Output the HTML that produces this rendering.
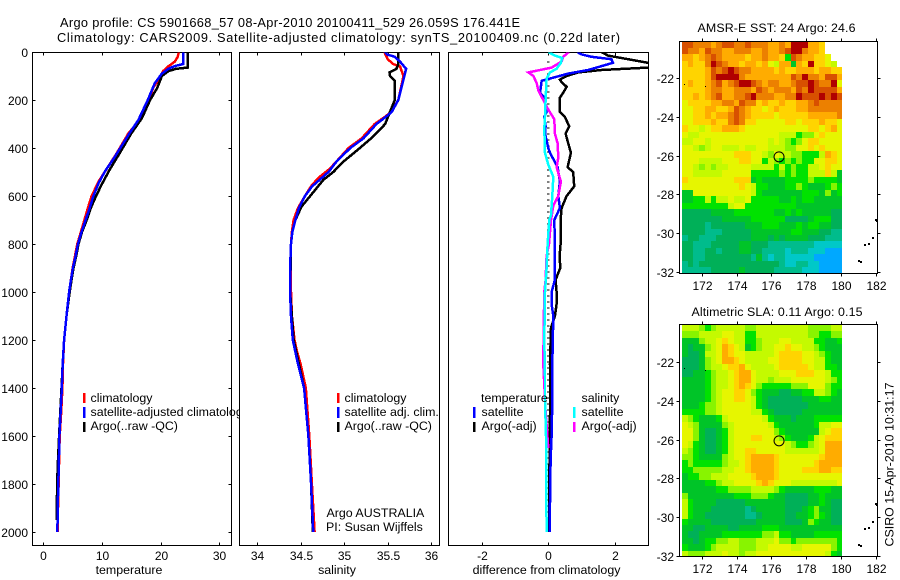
<!DOCTYPE html>
<html lang="en">
<head>
<meta charset="utf-8">
<title>Argo profile</title>
<style>
html,body{margin:0;padding:0;background:#fff;}
svg{display:block;font-family:"Liberation Sans",sans-serif;font-size:12.4px;fill:#000;}
text{fill:#000;stroke:none;}
.frame{fill:none;stroke:#000;stroke-width:1;shape-rendering:crispEdges;}
.tick{stroke:#000;stroke-width:1;shape-rendering:crispEdges;}
.prof{fill:none;stroke-width:2.5;stroke-linejoin:miter;shape-rendering:crispEdges;}
</style>
</head>
<body>
<svg id="chart" xmlns="http://www.w3.org/2000/svg" width="900" height="580" viewBox="0 0 900 580">
<defs>
<clipPath id="clip-temp"><rect x="32.5" y="52.5" width="199" height="493"/></clipPath>
<clipPath id="clip-sal"><rect x="239.5" y="52.5" width="200" height="493"/></clipPath>
<clipPath id="clip-diff"><rect x="448.5" y="52.5" width="200" height="493"/></clipPath>
</defs>
<rect x="0" y="0" width="900" height="580" fill="#fff"/>
<text x="60" y="27" textLength="460" lengthAdjust="spacing" font-size="12.8">Argo profile: CS 5901668_57 08-Apr-2010 20100411_529 26.059S 176.441E</text>
<text x="57" y="42" textLength="563" lengthAdjust="spacing" font-size="12.8">Climatology: CARS2009. Satellite-adjusted climatology: synTS_20100409.nc (0.22d later)</text>

<g id="panel-temp"></g>
<g>
<rect x="83" y="393" width="2.5" height="10" fill="#f00"/>
<rect x="83" y="407" width="2.5" height="11" fill="#00f"/>
<rect x="83" y="422" width="2.5" height="10" fill="#000"/>
<text x="90.5" y="402">climatology</text>
<text x="90.5" y="416">satellite-adjusted climatology</text>
<text x="90.5" y="430">Argo(..raw -QC)</text>
</g>

<g id="panel-sal"></g>
<g>
<rect x="337" y="393" width="2.5" height="10" fill="#f00"/>
<rect x="337" y="407" width="2.5" height="11" fill="#00f"/>
<rect x="337" y="422" width="2.5" height="10" fill="#000"/>
<text x="344.5" y="402">climatology</text>
<text x="344.5" y="416">satellite adj. clim.</text>
<text x="344.5" y="430">Argo(..raw -QC)</text>
<text x="326.5" y="517">Argo AUSTRALIA</text>
<text x="326" y="531">PI: Susan Wijffels</text>
</g>

<g id="panel-diff"></g>
<g>
<text x="481" y="402">temperature</text>
<rect x="473" y="407" width="2.5" height="11" fill="#00f"/>
<rect x="473" y="422" width="2.5" height="10" fill="#000"/>
<text x="481.5" y="416">satellite</text>
<text x="481.5" y="430">Argo(-adj)</text>
<text x="581.5" y="402">salinity</text>
<rect x="573" y="407" width="2.5" height="11" fill="#0ff"/>
<rect x="573" y="422" width="2.5" height="10" fill="#f0f"/>
<text x="581.5" y="416">satellite</text>
<text x="581.5" y="430">Argo(-adj)</text>
</g>

<text x="129" y="574" text-anchor="middle">temperature</text>
<text x="337" y="574" text-anchor="middle">salinity</text>
<text x="546.5" y="574" text-anchor="middle">difference from climatology</text>

<text x="697.5" y="32" textLength="158" lengthAdjust="spacing">AMSR-E SST: 24 Argo: 24.6</text>
<text x="691.5" y="316" textLength="171" lengthAdjust="spacing">Altimetric SLA: 0.11 Argo: 0.15</text>
<g id="map-sst"></g>
<g id="map-sla"></g>
<text transform="translate(893.5,546.5) rotate(-90)" textLength="164" lengthAdjust="spacing">CSIRO 15-Apr-2010 10:31:17</text>
</svg>

<script>
// ---- axis tick labels
const depthTicks = [0,200,400,600,800,1000,1200,1400,1600,1800,2000];
const tempTicks = [0,10,20,30];
const salTicks = [34,34.5,35,35.5,36];
const diffTicks = [-2,0,2];
const lonTicks = [172,174,176,178,180,182];
const latTicks = [-22,-24,-26,-28,-30,-32];

// ---- temperature panel
const tempClimDepth = [0,20,40,60,80,100,150,200,283,339,422,491,540,603,650,700,750,800,850,900,950,1000,1100,1200,1300,1400,1500,1600,1700,1800,1900,2000];
const tempClimValue = [23.1,22.9,22.4,21.3,20.4,20,18.7,18,16.4,14.5,12.5,10.7,9.4,8.2,7.6,7.0,6.4,5.8,5.4,5.0,4.7,4.4,3.95,3.55,3.35,3.25,3.05,2.8,2.7,2.6,2.5,2.45];
const tempSatDepth = [0,50,58,70,90,130,200,283,346,436,498,547,603,650,700,750,800,850,900,950,1000,1100,1200,1300,1400,1500,1600,1700,1800,1900,2000];
const tempSatValue = [23.85,23.85,22.5,21.3,20.2,19,17.8,16.2,14.5,12.2,10.5,9.4,8.5,7.9,7.2,6.5,5.9,5.5,5.05,4.7,4.4,3.95,3.55,3.3,3.15,2.95,2.75,2.65,2.55,2.45,2.4];
const tempArgoDepth = [0,65,70,80,100,150,200,276,339,422,491,554,610,650,700,750,800,850,900,950,1000,1100,1200,1300,1400,1500,1600,1700,1800,1950];
const tempArgoValue = [24.6,24.6,22.6,21.3,20.2,19.4,18.2,16.8,15,13,11.3,9.9,8.8,8.1,7.4,6.6,6.0,5.6,5.15,4.8,4.5,3.95,3.55,3.3,3.1,2.9,2.7,2.5,2.35,2.3];

// ---- salinity panel
const salClimDepth = [0,30,50,60,100,200,250,272,300,360,400,485,520,554,600,650,700,750,800,900,1000,1100,1200,1250,1300,1350,1400,1600,1800,2000];
const salClimValue = [35.46,35.5,35.56,35.64,35.68,35.62,35.54,35.46,35.35,35.2,35.05,34.84,34.72,34.63,34.55,34.47,34.42,34.4,34.39,34.385,34.39,34.4,34.43,34.46,34.5,34.53,34.56,34.6,34.63,34.66];
const salSatDepth = [0,10,20,40,70,100,200,250,272,300,360,400,457,500,561,600,650,700,750,800,900,1000,1100,1200,1250,1300,1350,1400,1600,1800,2000];
const salSatValue = [35.47,35.49,35.58,35.64,35.71,35.69,35.62,35.545,35.47,35.37,35.22,35.07,34.91,34.82,34.63,34.55,34.48,34.44,34.405,34.39,34.38,34.38,34.39,34.41,34.44,34.47,34.505,34.54,34.59,34.62,34.645];
const salArgoDepth = [0,50,70,85,100,120,200,300,353,400,457,500,533,600,644,700,750,800,1000,1200,1300,1400,1600,1800,2000];
const salArgoValue = [35.62,35.62,35.6,35.52,35.525,35.58,35.58,35.47,35.33,35.18,34.99,34.875,34.76,34.61,34.51,34.44,34.405,34.39,34.38,34.42,34.48,34.54,34.59,34.62,34.64];

// ---- difference panel
const diffTArgoDepth = [0,15,45,55,65,75,85,100,115,125,145,170,190,250,270,310,340,380,420,480,500,560,600,650,700,800,850,900,920,950,1000,1050,1100,1150,1300,1450,1600,2000];
const diffTArgoValue = [1.6,1.8,3,3.5,3,1.6,0.9,0.55,0.35,0.4,0.55,0.45,0.35,0.35,0.5,0.63,0.52,0.6,0.68,0.58,0.75,0.78,0.55,0.4,0.37,0.37,0.34,0.36,0.3,0.22,0.25,0.25,0.2,0.08,0.05,0.06,0.04,0.03];
const diffTSatDepth = [0,10,20,30,45,75,90,120,170,190,250,270,310,340,400,420,480,540,600,650,700,800,900,950,1000,1050,1100,1300,1450,1600,1700,2000];
const diffTSatValue = [0.87,1,1.3,1.9,1.95,1.2,0.6,-0.2,-0.25,-0.12,-0.05,-0.12,-0.08,-0.1,0,0.05,0.28,0.35,0.3,0.35,0.18,0.2,0.2,0.2,0.1,0.1,0.15,0.12,0.12,0.1,0.07,0.04];
const diffSArgoDepth = [0,20,40,65,85,100,130,160,200,240,280,340,380,440,480,540,600,640,700,800,850,950,1000,1150,1300,1500,1650];
const diffSArgoValue = [0.62,0.45,0.4,0.1,-0.6,-0.45,-0.35,-0.3,-0.15,0,0.18,0.2,0.28,0.3,0.25,0.38,0.3,0.15,0.08,0.02,-0.05,-0.08,-0.12,-0.14,-0.15,-0.08,0];
const diffSSatDepth = [0,15,25,45,70,85,110,200,270,320,420,470,520,600,680,700,800,900,1000,1200,1350,1450,1600,2000];
const diffSSatValue = [0,0.2,0.42,0.38,0.25,0.05,-0.05,-0.08,-0.1,-0.12,-0.1,0,0.15,0.12,0.08,0.03,-0.02,-0.05,-0.1,-0.12,-0.1,-0.1,-0.07,-0.05];
const zeroLine = [0,0];
const zeroLineDepth = [40,2010];

// ---- map data: each character is one colour level, "." is no data
const sstRows = [
"ccbbbabccbbcbbbaabadddaa9...",
"cbbacbbaabbbaabaabcddbaa9...",
"aa9abcbaaaa9aabaa95cbaa998..",
"9a99bdcbaa9aa9a87aa4a9d9987.",
"9999acbcdcbbaaaa9a99aaa9aa99",
"9999acddddbaaaaaaaacbdbbacca",
"9a99abcabcddcbabbaabccdcbbd8",
"9999abbaabbbacbabbbacbdcccca",
"99a9abcaabbcdbbbaabbdcccdcdc",
"89999aabbacbb9a99a99aabcbbbb",
"8899aa99acba9989a999aabbbbbb",
"8899a9aabcba9999899999aaaaab",
"88999a99bcb9988888998999a998",
"9887899aaa9888888888889989a8",
"8778888888888888877756689888",
"7788788888888887876568998888",
"8876788777877887776688989888",
"8888888889998876877665557a98",
"8887777888998857656565588998",
"8876767788887777575655778988",
"8877777888885555565655777974",
"9888888889994544445555655554",
"8888888888987554445565444565",
"4488888888887544444445554645",
"4455757787785555544545544444",
"5555555578855555555544444444",
"3333344445555555445454444433",
"3333333444445555553333455533",
"3333233333344455544454554433",
"3333222333334444444554443322",
"2332223333334443434444333222",
"3322233333443332222222211111",
"3322332333443322221222111000",
"3322333333332421221111100000",
"2323333333333333321122110000",
"2222233333433333222221110000"
];
const slaRows = [
"7776567777766777777777666677",
"6667777887755777777777665566",
"4446778987755677788777755445",
"4344678a98745677889887765444",
"4334778a98877777899998876544",
"3334678aa9877778899998877544",
"3334677899a87777899999877554",
"3344567789aa8777788899988755",
"4444567789aa8776777888888765",
"4444567789a98655555666888655",
"4444567889986544433445577654",
"4444567889987543333334445544",
"4445667888887543333333444444",
"5555667888887754333334444444",
"7654445788888875444344455555",
"8764444678888887544444457788",
"8864334578888888654444447899",
"8864334578889988765444578999",
"8754334578888888887655678aaa",
"7654334578899888887777778aaa",
"665444467889aaaa988888889aaa",
"565555567789aaaa98888889aaaa",
"556666677889aaaa98888999aa99",
"4556677788889aaa988888888888",
"44445567788889a9888777777778",
"4444445566667777654444455544",
"6444444445556665443333445444",
"7544443333344444443333445433",
"7544433333323444443334564433",
"7544333333322344443344565433",
"5444433333333444443334654433",
"4433444433444455544444444444",
"4334444555555566755444455555",
"4434556677666777866566666665",
"5444567777666778888778888865",
"7666777877677888888888888754"
];
const levelValues = "0123456789abcd";
const levelColors = ["#00a8ff","#00c8c8","#00bc8c","#00b058","#00c428","#00e200","#88f400","#c4fa00","#e6f600","#ffd400","#ffac00","#ec8000","#d85000","#b00000"];

// ---- map marks
const profileLon = 176.44;
const profileLat = -26.06;
const islandLon = [181.0,181.1,181.3,181.55,181.75,181.95,182.0];
const islandLat = [-31.4,-31.45,-30.55,-30.5,-30.2,-29.27,-29.32];
const speckLon = [170.85,172.05];
const speckLat = [-22.3,-22.42];

const NS = 'http://www.w3.org/2000/svg';
function el(tag, parent){ const e = document.createElementNS(NS, tag); parent.appendChild(e); return e; }

// Axis functions
const yDepth = d => 52 + 0.24 * d;
const xTemp = v => 43.3 + 5.87 * v;
const xSal = v => 257 + 87.2 * (v - 34);
const xDiff = v => 548.3 + 33.2 * v;
const xLon = v => 701.7 + 17.42 * (v - 172);

function drawFrame(g, x0, y0, w, h){
  const r = el('rect', g);
  
  
  r.setAttribute('class', 'frame');
  r.setAttribute('x', x0); r.setAttribute('y', y0);
  r.setAttribute('width', w); r.setAttribute('height', h);
}
function drawTick(g, x1, y1, x2, y2){
  const t = el('line', g);
  
  
  t.setAttribute('class', 'tick');
  t.setAttribute('x1', x1); t.setAttribute('y1', y1);
  t.setAttribute('x2', x2); t.setAttribute('y2', y2);
}
function drawLabel(g, x, y, anchor, s){
  const t = el('text', g);
  
  
  t.setAttribute('x', x); t.setAttribute('y', y);
  t.setAttribute('text-anchor', anchor);
  t.setAttribute('font-size', '12');
  t.textContent = s;
}
function drawSeries(g, xf, depths, values, color, clip, name, dash, width){
  const p = el('polyline', g);
  
  
  p.setAttribute('class', 'prof');
  p.setAttribute('stroke', color);
  p.setAttribute('clip-path', 'url(#' + clip + ')');
  if (dash) p.setAttribute('stroke-dasharray', dash);
  if (width) p.setAttribute('stroke-width', width);
  p.setAttribute('points', depths.map((d, i) => xf(values[i]).toFixed(1) + ',' + yDepth(d).toFixed(1)).join(' '));
}
function profilePanel(id, x0, w, xf, ticks, yLabels){
  const g = document.getElementById(id);
  const bg = el('rect', g);
  
  
  bg.setAttribute('x', x0); bg.setAttribute('y', 52.5);
  bg.setAttribute('width', w); bg.setAttribute('height', 493);
  bg.setAttribute('fill', '#fff');
  drawFrame(g, x0, 52.5, w, 493);
  ticks.forEach(v => {
    const x = Math.round(xf(v)) + 0.5;
    drawTick(g, x, 52.5, x, 55.5);
    drawTick(g, x, 545.5, x, 542.5);
    drawLabel(g, x, 560, 'middle', String(v));
  });
  if (yLabels) depthTicks.forEach(d => {
    const y = Math.round(yDepth(d)) + 0.5;
    drawTick(g, x0, y, x0 + 3, y);
    drawTick(g, x0 + w, y, x0 + w - 3, y);
    drawLabel(g, 28, y + 4.5, 'end', String(d));
  });
  return g;
}

const gT = profilePanel('panel-temp', 32.5, 199, xTemp, tempTicks, true);
drawSeries(gT, xTemp, tempClimDepth, tempClimValue, '#f00', 'clip-temp', 'climatology-line');
drawSeries(gT, xTemp, tempArgoDepth, tempArgoValue, '#000', 'clip-temp', 'argo-line');
drawSeries(gT, xTemp, tempSatDepth, tempSatValue, '#00f', 'clip-temp', 'satellite-line');

const gS = profilePanel('panel-sal', 239.5, 200, xSal, salTicks, false);
drawSeries(gS, xSal, salClimDepth, salClimValue, '#f00', 'clip-sal', 'climatology-line');
drawSeries(gS, xSal, salArgoDepth, salArgoValue, '#000', 'clip-sal', 'argo-line');
drawSeries(gS, xSal, salSatDepth, salSatValue, '#00f', 'clip-sal', 'satellite-line');

const gD = profilePanel('panel-diff', 448.5, 200, xDiff, diffTicks, false);
drawSeries(gD, xDiff, zeroLineDepth, zeroLine, '#000', 'clip-diff', 'zero-line', '1 5', 1);
drawSeries(gD, xDiff, diffTArgoDepth, diffTArgoValue, '#000', 'clip-diff', 'temp-argo-diff-line');
drawSeries(gD, xDiff, diffTSatDepth, diffTSatValue, '#00f', 'clip-diff', 'temp-satellite-diff-line');
drawSeries(gD, xDiff, diffSArgoDepth, diffSArgoValue, '#f0f', 'clip-diff', 'salinity-argo-diff-line');
drawSeries(gD, xDiff, diffSSatDepth, diffSSatValue, '#0ff', 'clip-diff', 'salinity-satellite-diff-line');

function drawMap(id, rows, top, lat22, latScale){
  const g = document.getElementById(id);
  const yLat = v => lat22 + latScale * (-22 - v);
  const latTop = -22 - (top - lat22) / latScale;
  const cellLon = 0.3286;
  const cellLat = 1 / 3;
  const lonStart = 170.87;
  rows.forEach((row, r) => {
    for (let c = 0; c < row.length; c++) {
      const idx = levelValues.indexOf(row[c]);
      if (idx < 0) continue;
      const x1 = xLon(lonStart + c * cellLon), x2 = xLon(lonStart + (c + 1) * cellLon);
      const y1 = yLat(latTop - r * cellLat), y2 = yLat(latTop - (r + 1) * cellLat);
      const cell = el('rect', g);
      
      
      cell.setAttribute('x', Math.round(x1));
      cell.setAttribute('y', Math.round(y1));
      cell.setAttribute('width', Math.round(x2) - Math.round(x1));
      cell.setAttribute('height', Math.round(y2) - Math.round(y1));
      cell.setAttribute('fill', levelColors[idx]);
      cell.setAttribute('shape-rendering', 'crispEdges');
    }
  });
  const bottom = top + 36 * 6.43;
  const fy = Math.round(top) - 0.5;
  const fh = Math.round(bottom) - Math.round(top) + 1;
  drawFrame(g, 679.5, fy, 198, fh);
  lonTicks.forEach(v => {
    const x = Math.round(xLon(v)) + 0.5;
    drawTick(g, x, fy, x, fy - 3);
    drawTick(g, x, fy + fh, x, fy + fh + 3);
    drawLabel(g, x, fy + fh + 16.5, 'middle', String(v));
  });
  latTicks.forEach(v => {
    const y = Math.round(yLat(v)) + 0.5;
    drawTick(g, 679.5, y, 676.5, y);
    drawTick(g, 877.5, y, 880.5, y);
    drawLabel(g, 674, y + 4.5, 'end', String(v));
  });
  islandLon.forEach((lon, i) => {
    const d = el('rect', g);
    
    
    d.setAttribute('x', Math.round(xLon(lon)));
    d.setAttribute('y', Math.round(yLat(islandLat[i])));
    d.setAttribute('width', 2);
    d.setAttribute('height', 2);
    d.setAttribute('fill', '#000');
  });
  speckLon.forEach((lon, i) => {
    const d = el('rect', g);
    
    
    d.setAttribute('x', Math.round(xLon(lon) + 2));
    d.setAttribute('y', Math.round(yLat(speckLat[i])));
    d.setAttribute('width', 1);
    d.setAttribute('height', 1);
    d.setAttribute('fill', '#000');
  });
  const circ = el('circle', g);
  
  
  circ.setAttribute('cx', xLon(profileLon));
  circ.setAttribute('cy', yLat(profileLat));
  circ.setAttribute('r', 5);
  circ.setAttribute('fill', 'none');
  circ.setAttribute('stroke', '#000');
  circ.setAttribute('stroke-width', 1);
}
drawMap('map-sst', sstRows, 41.5, 78.3, 19.35);
drawMap('map-sla', slaRows, 325, 362.3, 19.35);
</script>
</body>
</html>
